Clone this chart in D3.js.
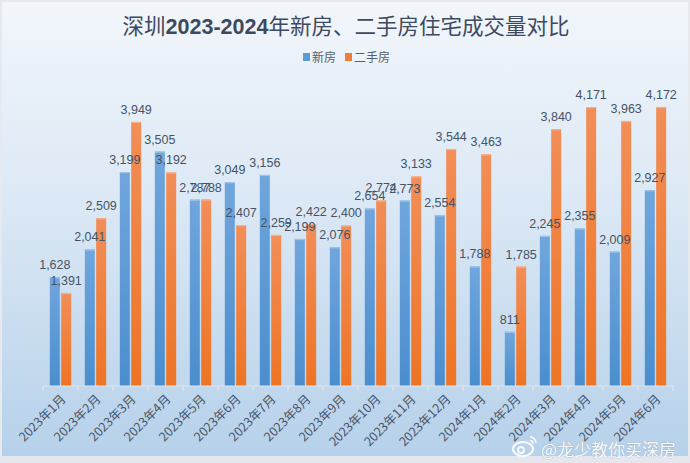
<!DOCTYPE html>
<html><head><meta charset="utf-8">
<script src="https://cdn.jsdelivr.net/npm/d3@7"></script>
<style>html,body{margin:0;padding:0;background:#e6e9ee;}svg{display:block;}</style>
</head><body>
<script>
const categories = ["2023年1月","2023年2月","2023年3月","2023年4月","2023年5月","2023年6月","2023年7月","2023年8月","2023年9月","2023年10月","2023年11月","2023年12月","2024年1月","2024年2月","2024年3月","2024年4月","2024年5月","2024年6月"];
const newHomes = [1628,2041,3199,3505,2787,3049,3156,2199,2076,2654,2773,2554,1788,811,2245,2355,2009,2927];
const resale = [1391,2509,3949,3192,2788,2407,2259,2422,2400,2774,3133,3544,3463,1785,3840,4171,3963,4172];
const seriesNames = ["新房","二手房"];
const titleParts = ["深圳","2023-2024","年新房、二手房住宅成交量对比"];
const watermark = "@龙少教你买深房";

const W = 690, H = 463;
const svg = d3.select("body").append("svg").attr("width", W).attr("height", H);
const defs = svg.append("defs");
const bg = defs.append("linearGradient").attr("id","bg").attr("x1",0).attr("y1",0).attr("x2",0).attr("y2",1);
bg.append("stop").attr("offset","0%").attr("stop-color","#f2f6fb");
bg.append("stop").attr("offset","45%").attr("stop-color","#dbe8f5");
bg.append("stop").attr("offset","100%").attr("stop-color","#b6d1ea");
const gb = defs.append("linearGradient").attr("id","gb").attr("x1",0).attr("y1",0).attr("x2",0).attr("y2",1);
gb.append("stop").attr("offset","0%").attr("stop-color","#70a6dd");
gb.append("stop").attr("offset","100%").attr("stop-color","#4a8ecf");
const go = defs.append("linearGradient").attr("id","go").attr("x1",0).attr("y1",0).attr("x2",0).attr("y2",1);
go.append("stop").attr("offset","0%").attr("stop-color","#f28e58");
go.append("stop").attr("offset","100%").attr("stop-color","#ee7424");

svg.append("rect").attr("x",2).attr("y",2).attr("width",W-4).attr("height",454).attr("fill","url(#bg)");
svg.append("rect").attr("x",0).attr("y",456).attr("width",W).attr("height",7).attr("fill","#e4e8ee");

// title
const t = svg.append("text").attr("x",346).attr("y",34).attr("text-anchor","middle")
  .attr("fill","#3d4a5e").attr("font-size",21.5).attr("font-family","'Noto Sans CJK SC', 'Liberation Sans', sans-serif");
t.append("tspan").text(titleParts[0]);
t.append("tspan").attr("font-weight","bold").attr("font-family","'Liberation Sans', sans-serif").text(titleParts[1]);
t.append("tspan").text(titleParts[2]);

// legend
const colors = ["#5b9bd8","#f07d35"];
const lg = svg.append("g").attr("font-family","'Noto Sans CJK SC', sans-serif").attr("font-size",12).attr("fill","#556070");
const legendX = [303, 345];
seriesNames.forEach((n,i)=>{
  lg.append("rect").attr("x",legendX[i]).attr("y",53).attr("width",7).attr("height",8).attr("fill",colors[i]);
  lg.append("text").attr("x",legendX[i]+9).attr("y",62).text(n);
});

// scales
const x = d3.scaleBand().domain(categories).range([43,673]).paddingInner(0).paddingOuter(0);
const x1 = d3.scaleBand().domain([0,1]).range([0, x.bandwidth()]).paddingInner(0.12).paddingOuter(0.6);
const y = d3.scaleLinear().domain([0,4500]).range([386,85]);

const grp = svg.append("g").selectAll("g").data(categories).join("g").attr("transform",d=>`translate(${x(d)},0)`);
const series = [newHomes, resale];
const fills = ["url(#gb)","url(#go)"];
const edges = ["#9cc3ea","#f6b08a"];
series.forEach((s,si)=>{
  grp.append("rect").attr("x",x1(si)).attr("width",x1.bandwidth())
    .attr("y",(d,i)=>y(s[i])).attr("height",(d,i)=>y(0)-y(s[i])).attr("fill",fills[si]);
  grp.append("rect").attr("x",x1(si)).attr("width",x1.bandwidth())
    .attr("y",(d,i)=>y(s[i])).attr("height",1.2).attr("fill",edges[si]);
});
series.forEach((s,si)=>{
  grp.append("text").attr("x",x1(si)+x1.bandwidth()/2).attr("y",(d,i)=>y(s[i])-8)
    .attr("text-anchor","middle").attr("font-family","'Liberation Sans', sans-serif").attr("font-size",12.5)
    .attr("fill","#465366").text((d,i)=>d3.format(",")(s[i]));
});

// axis
const ax = svg.append("g").attr("transform","translate(0,386)");
ax.append("line").attr("x1",43).attr("x2",673).attr("stroke","#e2e6ea").attr("stroke-width",1.2);
ax.selectAll("line.tk").data(categories.concat(["end"])).join("line").attr("class","tk")
  .attr("x1",(d,i)=>43+i*x.bandwidth()).attr("x2",(d,i)=>43+i*x.bandwidth()).attr("y1",0).attr("y2",5)
  .attr("stroke","#e2e6ea").attr("stroke-width",1.2);
svg.append("g").selectAll("text").data(categories).join("text")
  .attr("transform",d=>`translate(${x(d)+x.bandwidth()/2+6},${400}) rotate(-45)`)
  .attr("text-anchor","end").attr("font-family","'Noto Sans CJK SC', sans-serif").attr("font-size",12.5)
  .attr("fill","#4a5568").text(d=>d);

// watermark
const wm = svg.append("g").attr("opacity",0.9);
wm.append("ellipse").attr("cx",523).attr("cy",449).attr("rx",10).attr("ry",7).attr("fill","none").attr("stroke","#ffffff").attr("stroke-width",2.2);
wm.append("circle").attr("cx",521).attr("cy",450).attr("r",3).attr("fill","none").attr("stroke","#ffffff").attr("stroke-width",1.8);
wm.append("path").attr("d","M530,437 a6,6 0 0 1 6,6 M530,440.5 a3,3 0 0 1 3,3").attr("fill","none").attr("stroke","#ffffff").attr("stroke-width",1.6);
wm.append("text").attr("x",541).attr("y",456).attr("font-family","'Noto Sans CJK SC', sans-serif").attr("font-size",17)
  .attr("fill","#ffffff").attr("stroke","#8a96a6").attr("stroke-width",0.4).attr("paint-order","stroke").text(watermark);
</script>
</body></html>
